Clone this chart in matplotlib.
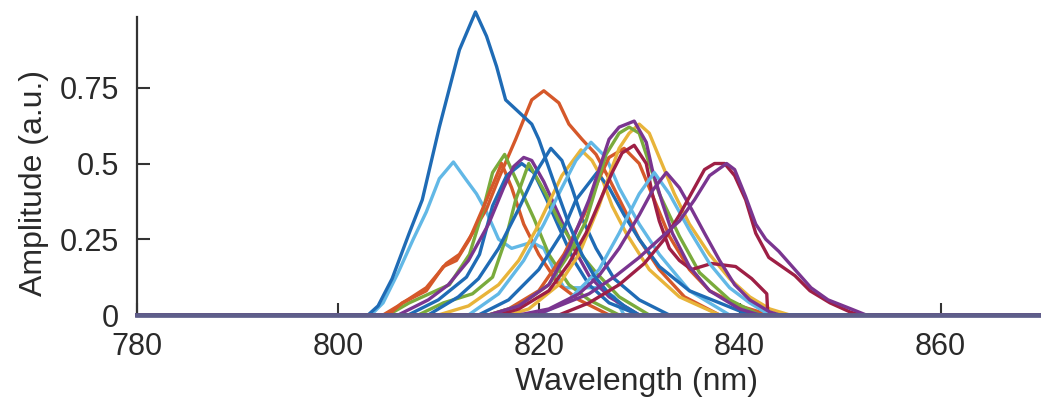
import matplotlib
matplotlib.use('Agg')
import matplotlib.pyplot as plt

plt.rcParams['font.family'] = ['Liberation Sans', 'DejaVu Sans']

blue = '#1f6bb5'
orange = '#d5582a'
yellow = '#e8b43a'
purple = '#7a3590'
green = '#7aab3c'
lightblue = '#62b8e6'
darkred = '#9e1f45'

# spectra: wavelength (nm), amplitude (a.u.)
wl_a = [803.0, 804.0, 805.4, 807.1, 808.4, 810.1, 812.1, 813.7, 814.8, 815.8, 816.7, 818.0, 819.3, 820.0, 821.7, 823.0, 824.3, 825.5, 827.0, 828.5, 830.0]
amp_a = [0, 0.03, 0.12, 0.27, 0.38, 0.62, 0.875, 1.0, 0.92, 0.82, 0.71, 0.67, 0.63, 0.58, 0.42, 0.30, 0.20, 0.13, 0.07, 0.03, 0]

wl_b = [803.3, 804.5, 806.0, 807.5, 808.8, 810.1, 811.5, 812.8, 813.8, 814.8, 816.0, 817.3, 819.3, 820.5, 821.5, 822.5, 826.0, 827.5, 828.5]
amp_b = [0, 0.04, 0.14, 0.25, 0.34, 0.45, 0.505, 0.445, 0.40, 0.34, 0.25, 0.22, 0.24, 0.22, 0.15, 0.09, 0.09, 0.06, 0]

wl_c = [804.5, 806.0, 808.8, 810.8, 812.1, 813.4, 814.8, 816.0, 817.7, 819.3, 820.5, 822.0, 823.0, 824.3, 825.7, 827.0, 828.5, 830.0, 832.0, 834.5, 838.0]
amp_c = [0, 0.03, 0.09, 0.17, 0.20, 0.27, 0.35, 0.45, 0.58, 0.71, 0.74, 0.70, 0.63, 0.58, 0.53, 0.45, 0.35, 0.25, 0.15, 0.06, 0]

wl_d = [805.0, 807.1, 811.1, 813.1, 814.4, 815.4, 816.6, 817.7, 819.5, 821.0, 823.0, 825.0, 828.0]
amp_d = [0, 0.04, 0.10, 0.20, 0.34, 0.47, 0.53, 0.45, 0.32, 0.20, 0.10, 0.05, 0]

wl_e = [805.0, 806.4, 808.8, 810.5, 811.8, 813.1, 814.8, 816.3, 817.3, 818.5, 820.0, 822.0, 824.0, 827.0]
amp_e = [0, 0.04, 0.08, 0.16, 0.18, 0.25, 0.38, 0.50, 0.42, 0.30, 0.20, 0.10, 0.05, 0]

wl_f = [806.0, 809.0, 811.0, 813.0, 815.0, 816.5, 817.5, 818.5, 819.3, 820.5, 822.0, 823.5, 825.0, 827.0, 830.0]
amp_f = [0, 0.05, 0.10, 0.18, 0.30, 0.42, 0.49, 0.52, 0.51, 0.44, 0.33, 0.22, 0.13, 0.06, 0]

wl_g = [807.0, 810.0, 812.8, 814.1, 815.4, 816.8, 818.3, 819.5, 820.8, 822.0, 823.5, 825.0, 827.0, 830.0]
amp_g = [0, 0.05, 0.125, 0.20, 0.36, 0.46, 0.50, 0.47, 0.38, 0.29, 0.18, 0.10, 0.04, 0]

wl_h = [808.0, 810.5, 813.4, 815.4, 816.7, 817.7, 819.0, 820.7, 822.0, 823.7, 825.7, 828.0, 831.0]
amp_h = [0, 0.04, 0.07, 0.125, 0.25, 0.38, 0.50, 0.40, 0.31, 0.22, 0.14, 0.06, 0]

wl_i = [809.0, 812.0, 814.0, 816.0, 818.0, 819.7, 821.2, 822.3, 823.3, 824.3, 825.7, 827.5, 830.0, 833.0]
amp_i = [0, 0.06, 0.12, 0.22, 0.35, 0.47, 0.55, 0.51, 0.42, 0.32, 0.22, 0.12, 0.05, 0]

wl_j = [810.0, 813.0, 816.0, 818.0, 819.7, 821.0, 822.3, 824.2, 825.3, 826.3, 827.3, 828.7, 831.0, 834.0, 838.0]
amp_j = [0, 0.03, 0.10, 0.18, 0.28, 0.37, 0.46, 0.545, 0.51, 0.45, 0.36, 0.27, 0.15, 0.06, 0]

wl_k = [813.0, 816.0, 818.5, 820.5, 822.3, 823.7, 825.2, 826.7, 828.0, 830.0, 832.0, 835.0, 839.0]
amp_k = [0, 0.07, 0.18, 0.30, 0.42, 0.51, 0.57, 0.52, 0.42, 0.30, 0.20, 0.08, 0]

wl_l = [814.0, 817.0, 820.0, 822.3, 823.7, 825.8, 827.0, 828.5, 830.0, 832.0, 835.0, 838.0, 841.0]
amp_l = [0, 0.05, 0.15, 0.27, 0.38, 0.47, 0.42, 0.33, 0.25, 0.16, 0.08, 0.04, 0]

wl_m = [815.0, 818.0, 821.0, 823.0, 824.7, 825.7, 826.7, 828.0, 829.0, 830.0, 831.0, 832.0, 834.0, 836.0, 839.0, 842.0]
amp_m = [0, 0.03, 0.10, 0.20, 0.31, 0.42, 0.53, 0.60, 0.62, 0.60, 0.50, 0.40, 0.26, 0.14, 0.05, 0]

wl_n = [815.0, 818.0, 821.0, 823.0, 825.0, 826.0, 827.0, 828.0, 829.5, 830.7, 831.3, 832.3, 833.3, 835.0, 837.0, 840.0, 842.0]
amp_n = [0, 0.03, 0.10, 0.22, 0.38, 0.48, 0.58, 0.62, 0.64, 0.57, 0.48, 0.37, 0.27, 0.16, 0.08, 0.02, 0]

wl_o = [817.0, 819.0, 822.0, 824.0, 826.0, 827.0, 828.0, 829.0, 830.0, 831.0, 832.0, 833.5, 835.0, 837.0, 839.0, 841.0, 843.0, 845.0]
amp_o = [0, 0.02, 0.10, 0.20, 0.36, 0.46, 0.55, 0.60, 0.63, 0.60, 0.52, 0.40, 0.30, 0.20, 0.12, 0.06, 0.02, 0]

wl_p = [816.0, 818.0, 821.0, 823.0, 824.7, 826.0, 827.3, 828.3, 829.5, 830.7, 831.3, 832.0, 833.0, 834.0, 835.2, 837.2, 839.6, 841.2, 842.7, 842.8]
amp_p = [0, 0.02, 0.08, 0.17, 0.27, 0.37, 0.47, 0.535, 0.56, 0.50, 0.40, 0.31, 0.22, 0.18, 0.15, 0.17, 0.16, 0.12, 0.07, 0]

wl_q = [815.0, 817.0, 820.0, 822.5, 824.5, 826.0, 827.0, 828.5, 830.0, 831.5, 833.0, 835.0, 837.0, 840.0, 843.0]
amp_q = [0, 0.02, 0.08, 0.20, 0.33, 0.45, 0.52, 0.55, 0.50, 0.38, 0.26, 0.15, 0.08, 0.03, 0]

wl_r = [818.0, 821.0, 824.0, 826.0, 828.0, 830.0, 831.3, 832.7, 834.0, 835.2, 836.5, 838.0, 839.5, 841.0, 843.0, 844.0]
amp_r = [0, 0.02, 0.07, 0.13, 0.22, 0.33, 0.41, 0.47, 0.42, 0.35, 0.27, 0.18, 0.10, 0.05, 0.01, 0]

wl_s = [820.0, 823.0, 826.0, 828.0, 830.0, 831.5, 833.0, 835.0, 837.0, 839.0, 841.0, 843.0]
amp_s = [0, 0.05, 0.15, 0.27, 0.40, 0.47, 0.40, 0.28, 0.17, 0.09, 0.04, 0]

wl_t = [819.7, 822.0, 825.0, 827.7, 830.0, 832.0, 834.0, 835.5, 837.0, 838.7, 839.5, 840.6, 841.6, 842.6, 843.9, 845.5, 847.1, 848.8, 851.1, 852.6]
amp_t = [0, 0.03, 0.07, 0.13, 0.19, 0.25, 0.31, 0.38, 0.46, 0.50, 0.48, 0.39, 0.30, 0.25, 0.21, 0.15, 0.09, 0.05, 0.02, 0]

wl_u = [822.0, 825.0, 828.0, 830.5, 832.5, 834.0, 835.5, 836.5, 837.5, 838.5, 839.5, 840.6, 841.6, 842.9, 845.5, 847.0, 849.0, 851.0, 852.0]
amp_u = [0, 0.04, 0.10, 0.17, 0.25, 0.33, 0.42, 0.48, 0.50, 0.50, 0.46, 0.38, 0.27, 0.19, 0.13, 0.08, 0.04, 0.01, 0]

spectra = [
    (wl_b, amp_b, lightblue),
    (wl_c, amp_c, orange),
    (wl_d, amp_d, green),
    (wl_e, amp_e, orange),
    (wl_g, amp_g, blue),
    (wl_f, amp_f, purple),
    (wl_h, amp_h, green),
    (wl_j, amp_j, yellow),
    (wl_i, amp_i, blue),
    (wl_k, amp_k, lightblue),
    (wl_l, amp_l, blue),
    (wl_q, amp_q, orange),
    (wl_o, amp_o, yellow),
    (wl_m, amp_m, green),
    (wl_p, amp_p, darkred),
    (wl_n, amp_n, purple),
    (wl_s, amp_s, lightblue),
    (wl_r, amp_r, purple),
    (wl_a, amp_a, blue),
    (wl_u, amp_u, darkred),
    (wl_t, amp_t, purple),
]

fig = plt.figure(figsize=(10.41, 4.12), dpi=100)
ax = fig.add_axes([0.1316, 0.2354, 0.8684, 0.7355])

for wl, amp, col in spectra:
    # zero baseline over the whole range
    x = [780.0] + wl + [870.0]
    y = [0.0] + amp + [0.0]
    ax.plot(x, y, color=col, linewidth=2.4, clip_on=False, solid_joinstyle='round')

ax.set_xlim(780, 870)
ax.set_ylim(0, 1.0)
ax.set_xticks([780, 800, 820, 840, 860])
ax.set_yticks([0, 0.25, 0.5, 0.75])
ax.set_yticklabels(['0', '0.25', '0.5', '0.75'])

for s in ['top', 'right']:
    ax.spines[s].set_visible(False)
ax.spines['left'].set_color('#333333')
ax.spines['left'].set_linewidth(1.6)
ax.spines['left'].set_bounds(0, 0.985)
ax.spines['bottom'].set_color('#5e5e8a')
ax.spines['bottom'].set_linewidth(3.4)
ax.spines['bottom'].set_zorder(3)

ax.tick_params(axis='both', direction='in', length=9, width=1.5, color='#333333',
               labelsize=22, labelcolor='#2a2a2a')
ax.tick_params(axis='y', pad=13)
ax.tick_params(axis='x', pad=12)

ax.set_xlabel('Wavelength (nm)', fontsize=23, color='#2a2a2a')
ax.set_ylabel('Amplitude (a.u.)', fontsize=23, color='#2a2a2a')
ax.xaxis.set_label_coords(0.553, -0.17)
ax.yaxis.set_label_coords(-0.097, 0.436)

fig.savefig('out.png', dpi=100)
